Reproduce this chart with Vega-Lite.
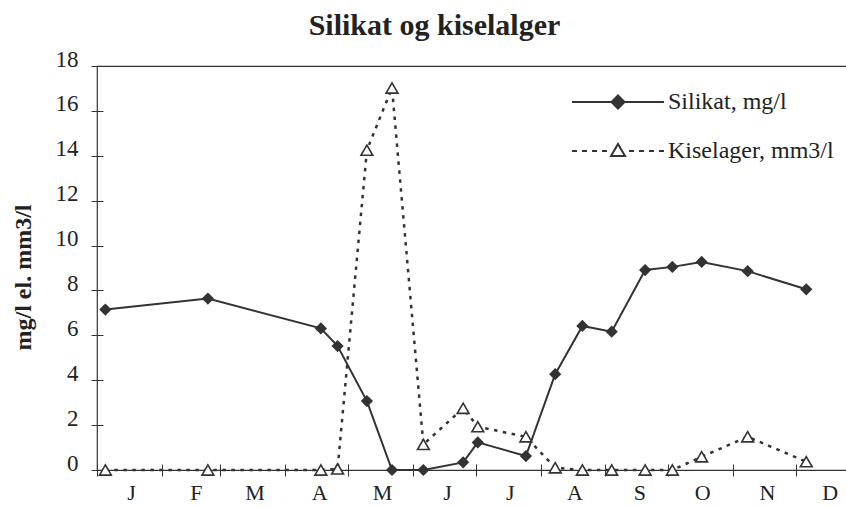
{
  "$schema": "https://vega.github.io/schema/vega-lite/v6.json",
  "width": 749,
  "height": 404,
  "autosize": {"type": "none"},
  "padding": {"left": 97, "top": 66, "right": 0, "bottom": 37},
  "background": "white",
  "title": {
    "text": "Silikat og kiselalger",
    "font": "Liberation Serif",
    "fontSize": 30,
    "fontWeight": "bold",
    "color": "#222",
    "anchor": "middle",
    "frame": "group",
    "dx": -37,
    "offset": 7
  },
  "config": {
    "view": {"stroke": "#333", "strokeWidth": 1.2, "strokeDash": [749, 404, 1153]},
    "font": "Liberation Serif"
  },
  "data": {
    "values": [
      {"day": 4, "silikat": 7.15, "kiselager": 0},
      {"day": 53, "silikat": 7.64, "kiselager": 0},
      {"day": 107, "silikat": 6.31, "kiselager": 0},
      {"day": 115, "silikat": 5.52, "kiselager": 0.05},
      {"day": 129, "silikat": 3.07, "kiselager": 14.25},
      {"day": 141, "silikat": 0, "kiselager": 17.02},
      {"day": 156, "silikat": 0, "kiselager": 1.14},
      {"day": 175, "silikat": 0.34, "kiselager": 2.75},
      {"day": 182, "silikat": 1.23, "kiselager": 1.93},
      {"day": 205, "silikat": 0.62, "kiselager": 1.48},
      {"day": 219, "silikat": 4.27, "kiselager": 0.1},
      {"day": 232, "silikat": 6.42, "kiselager": 0},
      {"day": 246, "silikat": 6.16, "kiselager": 0},
      {"day": 262, "silikat": 8.91, "kiselager": 0},
      {"day": 275, "silikat": 9.05, "kiselager": 0},
      {"day": 289, "silikat": 9.27, "kiselager": 0.59},
      {"day": 311, "silikat": 8.86, "kiselager": 1.48},
      {"day": 339, "silikat": 8.05, "kiselager": 0.37}
    ]
  },
  "transform": [{"fold": ["silikat", "kiselager"], "as": ["series", "value"]}],
  "encoding": {
    "x": {
      "field": "day",
      "type": "quantitative",
      "title": null,
      "scale": {"domain": [0, 358], "nice": false, "zero": false},
      "axis": {
        "values": [0, 31, 59, 90, 120, 151, 181, 212, 243, 273, 304, 334],
        "labelExpr": "['J','F','M','A','M','J','J','A','S','O','N','D'][indexof([0,31,59,90,120,151,181,212,243,273,304,334], datum.value)]",
        "domain": false,
        "grid": false,
        "offset": -6,
        "tickSize": 12,
        "tickColor": "#333",
        "tickWidth": 1,
        "labelOffset": 34,
        "labelPadding": 6,
        "labelFont": "Liberation Serif",
        "labelFontSize": 22,
        "labelColor": "#222",
        "labelBaseline": "top",
        "labelAlign": "center",
        "labelFlush": false,
        "labelOverlap": false,
        "title": null
      }
    },
    "y": {
      "field": "value",
      "type": "quantitative",
      "title": "mg/l el. mm3/l",
      "scale": {"domain": [0, 18], "nice": false},
      "axis": {
        "values": [0, 2, 4, 6, 8, 10, 12, 14, 16, 18],
        "domain": false,
        "grid": false,
        "offset": -6,
        "tickSize": 12,
        "tickColor": "#333",
        "tickWidth": 1,
        "labelPadding": 13,
        "labelFont": "Liberation Serif",
        "labelFontSize": 23,
        "labelColor": "#222",
        "labelBaseline": "alphabetic",
        "labelFlush": false,
        "labelOverlap": false,
        "title": "mg/l el. mm3/l",
        "titleFont": "Liberation Serif",
        "titleFontSize": 24,
        "titleFontWeight": "bold",
        "titleColor": "#222",
        "titleAngle": -90,
        "titleX": -80,
        "titleY": 211,
        "titleBaseline": "middle",
        "titleAlign": "center"
      }
    }
  },
  "layer": [
    {
      "transform": [{"filter": "datum.series === 'kiselager'"}],
      "mark": {"type": "line", "color": "#333", "strokeWidth": 2.5, "strokeDash": [3.5, 5.5]}
    },
    {
      "transform": [{"filter": "datum.series === 'silikat'"}],
      "mark": {"type": "line", "color": "#333", "strokeWidth": 2}
    },
    {
      "transform": [{"filter": "datum.series === 'silikat'"}],
      "mark": {"type": "point", "shape": "diamond", "size": 150, "filled": true, "fill": "#333", "opacity": 1}
    },
    {
      "transform": [{"filter": "datum.series === 'kiselager'"}],
      "mark": {"type": "point", "shape": "triangle-up", "size": 140, "filled": false, "fill": "#ffffff", "stroke": "#333", "strokeWidth": 1.6, "opacity": 1, "fillOpacity": 1}
    },
    {
      "mark": {"type": "point", "filled": false, "stroke": "#333", "strokeWidth": 2, "opacity": 0},
      "encoding": {
        "shape": {
          "field": "series",
          "type": "nominal",
          "scale": {
            "domain": ["silikat", "kiselager"],
            "range": [
              "M-46,0H46M0,-6.5L6.5,0L0,6.5L-6.5,0ZM0,-4.5L4.5,0L0,4.5L-4.5,0ZM0,-2.5L2.5,0L0,2.5L-2.5,0ZM0,-1L1,0L0,1L-1,0Z",
              "M-46,0H-41M-36,0H-31M-26,0H-21M-16,0H-11M-7,5L0,-7L7,5ZM11,0H16M21,0H26M31,0H36M41,0H46"
            ]
          },
          "legend": {
            "orient": "none",
            "legendX": 509,
            "legendY": 24,
            "title": null,
            "padding": 0,
            "symbolSize": 4,
            "symbolStrokeWidth": 2,
            "symbolStrokeColor": "#333",
            "symbolOpacity": 1,
            "labelFont": "Liberation Serif",
            "labelFontSize": 24,
            "labelColor": "#222",
            "labelOffset": 38,
            "labelLimit": 300,
            "rowPadding": 25,
            "labelExpr": "datum.value == 'silikat' ? 'Silikat, mg/l' : 'Kiselager, mm3/l'"
          }
        }
      }
    }
  ]
}
